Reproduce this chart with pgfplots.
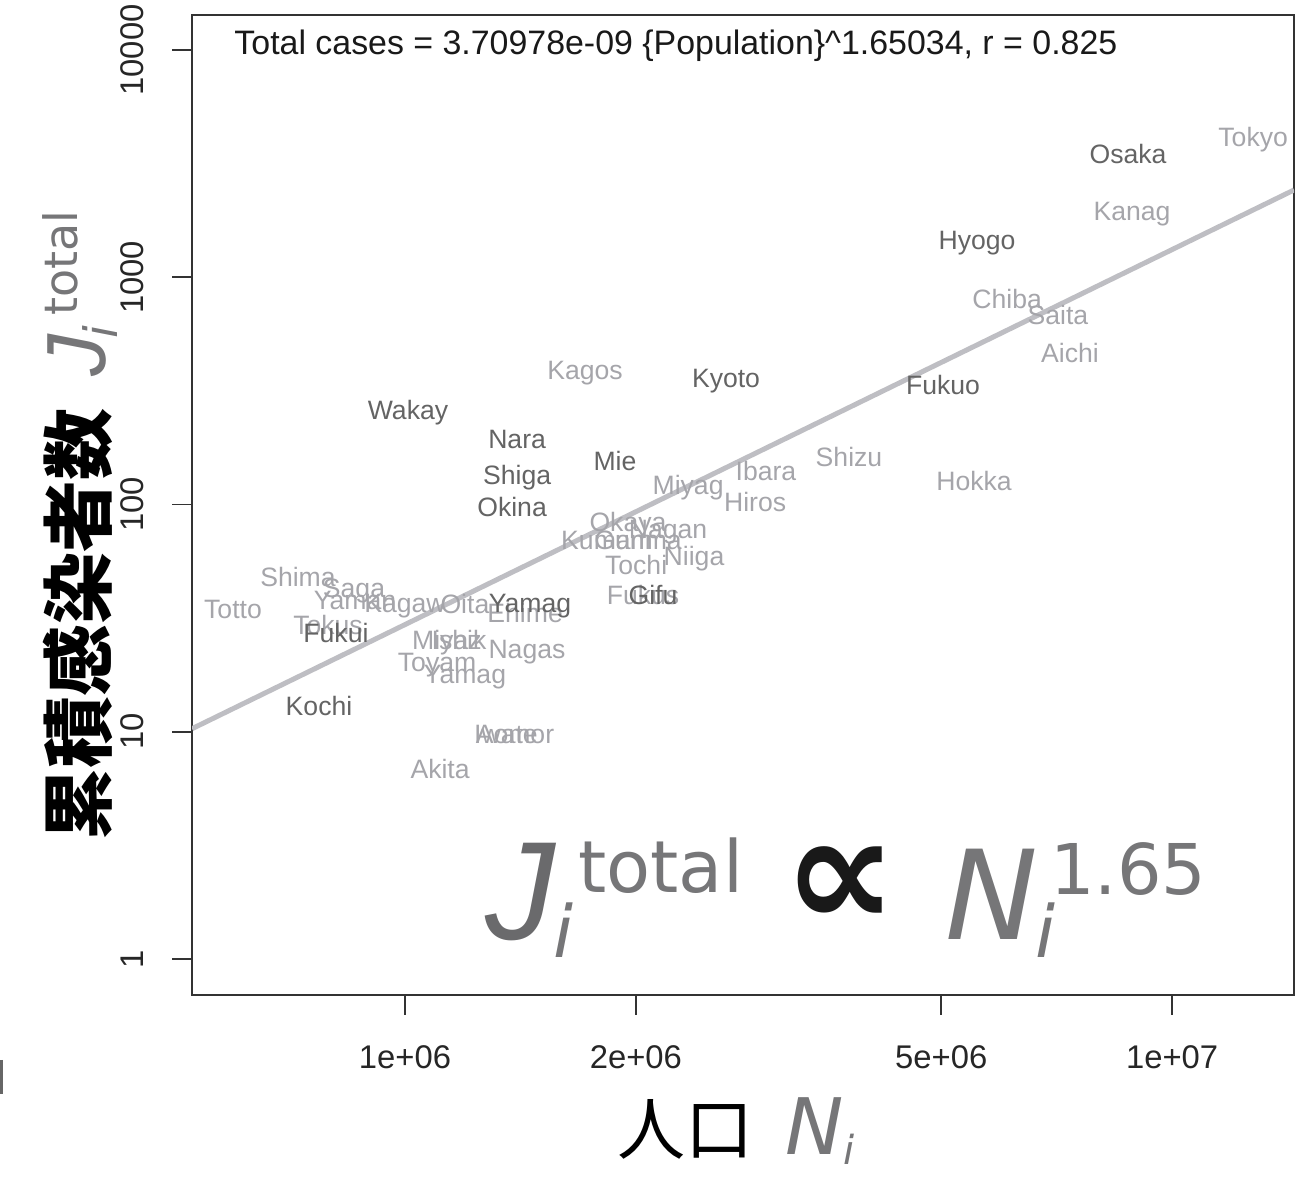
\documentclass[border=0pt]{standalone}
\usepackage{pgfplots}
\usepackage{pgfplotstable}
\pgfplotsset{compat=1.18}
\usepackage{fontspec}
\setmainfont{Liberation Sans}
\newfontfamily\cjk{Noto Sans CJK JP}
\newfontfamily\fml{DejaVu Sans}
\definecolor{darklab}{RGB}{100,100,100}
\definecolor{lightlab}{RGB}{165,165,170}
\definecolor{fitline}{RGB}{190,190,195}
\definecolor{fmlgray}{RGB}{118,118,120}

\pgfplotstableread{
x y label
8761000 3483 Osaka
5568000 1456 Hyogo
5028000 334 Fukuo
2621000 359 Kyoto
1009000 259.5 Wakay
1400000 193.4 Nara
1400000 134.2 Shiga
1878000 154.7 Mie
1379000 97.0 Okina
2105000 40.1 Gifu
1455000 37.0 Yamag
812800 27.3 Fukui
772600 12.9 Kochi
}\darkdata

\pgfplotstableread{
x y label
12753000 4137 Tokyo
8867000 1953 Kanag
6095000 800 Chiba
7099000 680 Saita
7362000 463 Aichi
1717000 389 Kagos
2339000 121.2 Miyag
2955000 139.8 Ibara
2860000 102.0 Hiros
3792000 161.1 Shizu
5518000 126.3 Hokka
1953000 83.3 Okaya
1834000 69.4 Kumam
2013000 69.4 Gunma
2202000 77.6 Nagan
2381000 59.0 Niiga
2001000 53.9 Tochi
2043000 40.1 Fukus
1434000 33.4 Ehime
1197000 36.6 Oita
1000000 37.0 Kagaw
860500 37.8 Yaman
858000 42.7 Saga
725200 47.7 Shima
596700 34.5 Totto
793700 29.6 Tokus
1134000 25.4 Miyaz
1176000 25.4 Ishik
1442000 23.0 Nagas
1101000 20.3 Toyam
1197000 18.0 Yamag
1354000 9.80 Iwate
1391000 9.80 Aomor
1111000 6.87 Akita
}\lightdata

\begin{document}
\begin{tikzpicture}
\path[use as bounding box] (-96pt,-93.5pt) rectangle (558pt,497.5pt);
\begin{axis}[
  scale only axis,
  width=551pt, height=490pt,
  xmode=log, ymode=log,
  xmin=527700, xmax=14420000,
  ymin=0.694, ymax=14260,
  axis line style={draw=black!80, line width=1pt},
  xtick={1e6,2e6,5e6,1e7},
  xticklabels={1e+06,2e+06,5e+06,1e+07},
  ytick={1,10,100,1000,10000},
  yticklabels={1,10,100,1000,10000},
  xminorticks=false, yminorticks=false,
  tick align=outside,
  major tick length=10pt,
  tick style={draw=black!80, line width=0.8pt},
  xtick pos=left, ytick pos=left,
  ticklabel style={font=\fontsize{16.4}{16.4}\selectfont, text=black!85},
  xticklabel style={anchor=north, inner sep=0pt},
  yticklabel style={rotate=90, anchor=south, inner sep=0pt},
  xticklabel shift=15pt,
  yticklabel shift=14pt,
  clip=true,
]
\addplot[color=fitline, line width=2.5pt] coordinates {(527700,10.31) (14420000,2422)};

\addplot[only marks, mark=*, mark size=0pt, mark options={draw=none, fill=none},
  nodes near coords, point meta=explicit symbolic,
  every node near coord/.append style={anchor=base, yshift=-4.7pt, inner sep=0pt,
    font=\fontsize{13.3}{13.3}\selectfont, text=lightlab}]
  table[x=x, y=y, meta=label] {\lightdata};

\addplot[only marks, mark=*, mark size=0pt, mark options={draw=none, fill=none},
  nodes near coords, point meta=explicit symbolic,
  every node near coord/.append style={anchor=base, yshift=-4.7pt, inner sep=0pt,
    font=\fontsize{13.3}{13.3}\selectfont, text=darklab}]
  table[x=x, y=y, meta=label] {\darkdata};

\node[anchor=base west, inner sep=0pt, font=\fontsize{16.95}{16.95}\selectfont, text=black!90]
  at (rel axis cs:0.0381,0.9592) {Total cases = 3.70978e-09 \{Population\}\^{}1.65034, r = 0.825};
\end{axis}

% big formula
\node[anchor=base west, inner sep=0pt, text=fmlgray!90!black] at (146.5pt,27.5pt) {\fontsize{70}{70}\selectfont\itshape J};
\node[anchor=base west, inner sep=0pt, text=fmlgray] at (180.5pt,18.5pt) {\fontsize{36}{36}\fml\itshape i};
\node[anchor=base west, inner sep=0pt, text=fmlgray] at (193pt,51pt) {\fontsize{36}{36}\fml total};
\node[anchor=center, inner sep=0pt, text=black!90] at (324pt,54pt) {\fontsize{80}{80}\fml\bfseries ∝};
\node[anchor=base west, inner sep=0pt, text=fmlgray] at (376.5pt,27.5pt) {\fontsize{62}{62}\fml\itshape N};
\node[anchor=base west, inner sep=0pt, text=fmlgray] at (421.5pt,18.5pt) {\fontsize{36}{36}\fml\itshape i};
\node[anchor=base west, inner sep=0pt, text=fmlgray] at (429pt,50pt) {\fontsize{35}{35}\fml 1.65};

% axis labels
\node[anchor=base, inner sep=0pt, rotate=90] at (-43pt,234.7pt)
  {{\fontsize{36}{36}\cjk\bfseries 累積感染者数}\hspace{16pt}{\color{fmlgray}{\fontsize{42}{42}\selectfont\itshape J}\kern-2pt\raisebox{-6pt}{\fontsize{23}{23}\fml\itshape i}\kern5pt\raisebox{14pt}{\fontsize{23}{23}\fml total}}};
\node[anchor=base, inner sep=0pt] at (272pt,-80pt)
  {{\fontsize{34}{34}\cjk 人口}\hspace{16pt}{\fontsize{39}{39}\fml\itshape\color{fmlgray}N\raisebox{-5pt}{\fontsize{20}{20}\selectfont i}}};

\draw[black!60, line width=1.5pt] (-95.2pt,-32.5pt) -- (-95.2pt,-49.5pt);
\end{tikzpicture}
\end{document}
